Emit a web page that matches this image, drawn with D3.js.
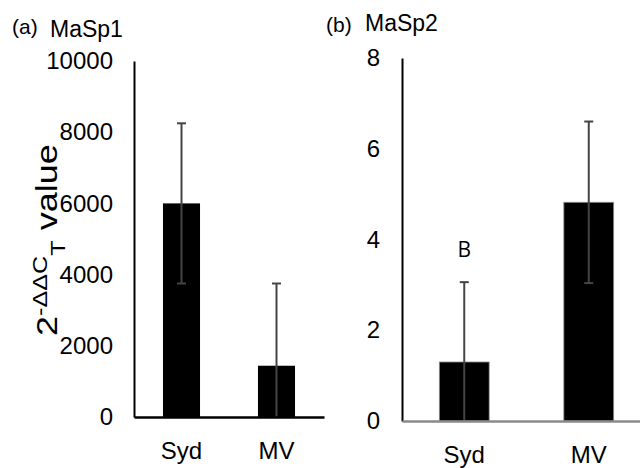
<!DOCTYPE html>
<html>
<head>
<meta charset="utf-8">
<script src="https://cdn.jsdelivr.net/npm/d3@7"></script>
<style>
  body { margin: 0; background: #fff; }
  svg { display: block; font-family: "Liberation Sans", Arial, sans-serif; }
</style>
</head>
<body>
<svg width="640" height="468"></svg>
<script>
// values
var categories = ["Syd", "MV"];
var masp1Means = [6000, 1440];
var masp1Errors = [2250, 2310];
var masp1Ticks = [0, 2000, 4000, 6000, 8000, 10000];
var masp2Means = [1.3, 4.82];
var masp2Errors = [1.76, 1.78];
var masp2Ticks = [0, 2, 4, 6, 8];
var masp2Letters = ["B", ""];

var svg = d3.select("svg");

function drawPanel(opt) {
    var y = d3.scaleLinear().domain(opt.domain).range([opt.y0, opt.y1]);
    var x = d3.scaleBand().domain(categories).range([opt.x0, opt.x1])
        .paddingInner(opt.pad).paddingOuter(opt.pad / 2);

    var g = svg.append("g");

    // bars
    g.selectAll("rect.bar")
        .data(opt.means)
        .enter()
        .append("rect")
        .attr("class", "bar")
        .attr("x", function(d, i) { return x(categories[i]); })
        .attr("width", x.bandwidth())
        .attr("y", function(d) { return y(d); })
        .attr("height", function(d) { return y(0) - y(d); })
        .attr("fill", "#000")
        .attr("stroke", opt.barStroke)
        .attr("stroke-width", 0.8);

    // error bars
    var capW = 9;
    opt.means.forEach(function(m, i) {
        var cx = x(categories[i]) + x.bandwidth() / 2;
        var hi = m + opt.errors[i];
        var lo = Math.max(0, m - opt.errors[i]);
        g.append("line")
            .attr("x1", cx).attr("x2", cx)
            .attr("y1", y(hi)).attr("y2", y(lo))
            .attr("stroke", "#444").attr("stroke-width", 2);
        g.append("line")
            .attr("x1", cx - capW / 2).attr("x2", cx + capW / 2)
            .attr("y1", y(hi)).attr("y2", y(hi))
            .attr("stroke", "#444").attr("stroke-width", 2);
        if (m - opt.errors[i] > 0) {
            g.append("line")
                .attr("x1", cx - capW / 2).attr("x2", cx + capW / 2)
                .attr("y1", y(lo)).attr("y2", y(lo))
                .attr("stroke", "#444").attr("stroke-width", 2);
        }
        if (opt.letters && opt.letters[i]) {
            g.append("text")
                .attr("x", cx)
                .attr("y", y(hi) - 25)
                .attr("text-anchor", "middle")
                .style("font-family", "'Open Sans', sans-serif")
                .style("font-size", "21px")
                .text(opt.letters[i]);
        }
    });

    // y axis
    var yAxis = g.append("g")
        .attr("transform", "translate(" + opt.x0 + ",0)")
        .call(d3.axisLeft(y).tickValues(opt.ticks).tickFormat(d3.format("d"))
            .tickSize(0).tickPadding(opt.tickPad));
    yAxis.select(".domain").attr("stroke", "#000").attr("stroke-width", 2);
    yAxis.selectAll("text").style("font-size", "24px").attr("fill", "#000")
        .style("font-family", "'Liberation Sans', Arial, sans-serif");

    // x axis
    var xAxis = g.append("g")
        .attr("transform", "translate(0," + y(0) + ")")
        .call(d3.axisBottom(x).tickSize(0).tickSizeOuter(0).tickPadding(opt.xPad));
    xAxis.select(".domain").attr("stroke", opt.baseColor).attr("stroke-width", opt.baseWidth);
    xAxis.selectAll("text").style("font-size", "24px").attr("fill", "#000")
        .style("font-family", "'Liberation Sans', Arial, sans-serif");
}

drawPanel({
    domain: [0, 10000], y0: 417, y1: 61,
    x0: 134, x1: 324, pad: 0.61,
    means: masp1Means, errors: masp1Errors, ticks: masp1Ticks,
    tickPad: 21, xPad: 25, baseColor: "#000", baseWidth: 2.5, barStroke: "none"
});

drawPanel({
    domain: [0, 8], y0: 421, y1: 58,
    x0: 402, x1: 651, pad: 0.6,
    means: masp2Means, errors: masp2Errors, ticks: masp2Ticks, letters: masp2Letters,
    tickPad: 22, xPad: 24.5, baseColor: "#8a8a8a", baseWidth: 2.5, barStroke: "#888"
});

// panel titles
svg.append("text").attr("x", 12).attr("y", 33.5).style("font-size", "21px").text("(a)");
svg.append("text").attr("x", 50).attr("y", 36.5).style("font-size", "23px").text("MaSp1");
svg.append("text").attr("x", 326).attr("y", 31.5).style("font-size", "21px").text("(b)");
svg.append("text").attr("x", 365).attr("y", 31).style("font-size", "23px").text("MaSp2");

// y axis title, rotated
var yt = svg.append("text")
    .attr("transform", "translate(57,336) rotate(-90) scale(1.2,1)")
    .style("font-size", "30px")
    .attr("fill", "#000");
yt.append("tspan").text("2");
yt.append("tspan").attr("dy", -10).style("font-size", "21px").text("-\u0394\u0394C");
yt.append("tspan").attr("dy", 18).style("font-size", "21px").text("T");
yt.append("tspan").attr("dy", -8).text(" value");
</script>
</body>
</html>
